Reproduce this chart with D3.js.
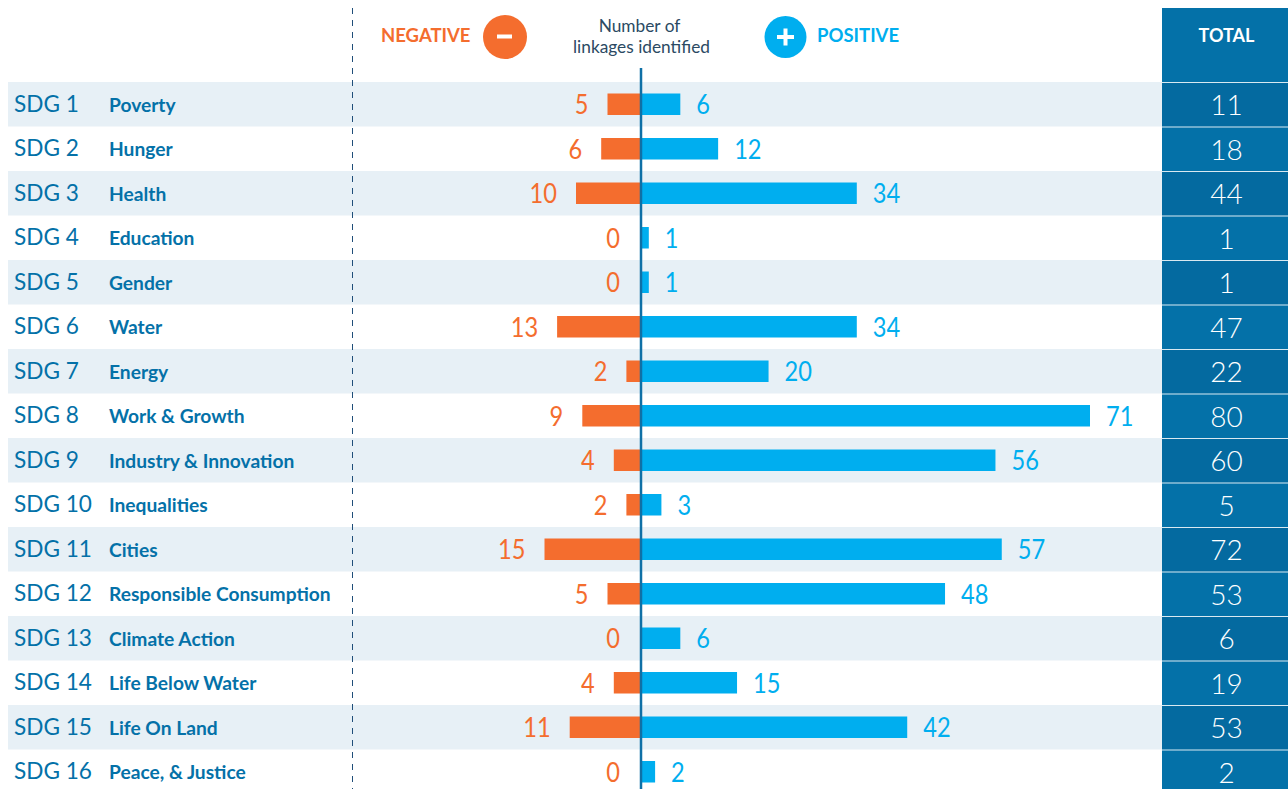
<!DOCTYPE html>
<html lang="en">
<head>
    <meta charset="UTF-8">
    <title>SDG linkages</title>
    <style>
        html, body { margin: 0; padding: 0; background: #fff; overflow: hidden; }
        svg { display: block; font-family: Lato, "Open Sans", sans-serif; }
    </style>
</head>
<body>
    <script src="https://d3js.org/d3.v7.min.js"></script>
    <script>
        const codes = ['SDG 1', 'SDG 2', 'SDG 3', 'SDG 4', 'SDG 5', 'SDG 6', 'SDG 7', 'SDG 8', 'SDG 9', 'SDG 10', 'SDG 11', 'SDG 12', 'SDG 13', 'SDG 14', 'SDG 15', 'SDG 16'];
        const names = ['Poverty', 'Hunger', 'Health', 'Education', 'Gender', 'Water', 'Energy', 'Work & Growth', 'Industry & Innovation', 'Inequalities', 'Cities', 'Responsible Consumption', 'Climate Action', 'Life Below Water', 'Life On Land', 'Peace, & Justice'];
        const negative = [5, 6, 10, 0, 0, 13, 2, 9, 4, 2, 15, 5, 0, 4, 11, 0];
        const positive = [6, 12, 34, 1, 1, 34, 20, 71, 56, 3, 57, 48, 6, 15, 42, 2];
        const totals = [11, 18, 44, 1, 1, 47, 22, 80, 60, 5, 72, 53, 6, 19, 53, 2];

        const width = 1288;
        const height = 789;
        const BLUE = '#00aeef';
        const ORANGE = '#f46d2e';
        const DARK = '#0471a8';
        const DARKER = '#046aa0';
        const BAND = '#e7f0f6';
        const CENTER = 641;

        const svg = d3.select('body').append('svg')
            .attr('width', width)
            .attr('height', height);

        const y = d3.scaleBand().domain(codes).range([82, 794]);
        // both sides start a little off the centre line
        const xNeg = d3.scaleLinear().domain([0, 15]).range([639, 544.5]);
        const xPos = d3.scaleLinear().domain([0, 71]).range([642.5, 1090]);
        const mid = d => y(d) + y.bandwidth() / 2;

        // Lato digits are wider than the original face, squeeze them
        const digitsLength = d => String(d).length * 13.7;

        // striped rows
        svg.append('g').selectAll('rect').data(codes.filter((d, i) => i % 2 === 0)).join('rect')
            .attr('x', 8)
            .attr('y', d => y(d))
            .attr('width', 1162 - 8)
            .attr('height', y.bandwidth())
            .attr('fill', BAND);

        // total column
        svg.append('rect').attr('x', 1162).attr('y', 8).attr('width', 126).attr('height', height - 8).attr('fill', DARK);
        svg.append('g').selectAll('rect').data(codes.filter((d, i) => i % 2 === 0)).join('rect')
            .attr('x', 1162)
            .attr('y', d => y(d))
            .attr('width', 126)
            .attr('height', y.bandwidth())
            .attr('fill', DARKER);
        svg.append('g').selectAll('line').data(codes).join('line')
            .attr('x1', 1162).attr('x2', 1288)
            .attr('y1', d => y(d) + 0.5).attr('y2', d => y(d) + 0.5)
            .attr('stroke', '#fff').attr('stroke-opacity', 0.85);

        svg.append('line')
            .attr('x1', 352.5).attr('x2', 352.5).attr('y1', 8).attr('y2', height)
            .attr('stroke', '#1f4e79').attr('stroke-dasharray', '6 6');

        // bars
        const barH = 21.5;
        svg.append('g').selectAll('rect').data(codes).join('rect')
            .attr('x', (d, i) => xNeg(negative[i]))
            .attr('y', d => mid(d) - barH / 2)
            .attr('width', (d, i) => negative[i] > 0 ? CENTER - xNeg(negative[i]) : 0)
            .attr('height', barH)
            .attr('fill', ORANGE);
        svg.append('g').selectAll('rect').data(codes).join('rect')
            .attr('x', CENTER)
            .attr('y', d => mid(d) - barH / 2)
            .attr('width', (d, i) => xPos(positive[i]) - CENTER)
            .attr('height', barH)
            .attr('fill', BLUE);

        svg.append('line')
            .attr('x1', CENTER).attr('x2', CENTER).attr('y1', 68).attr('y2', height)
            .attr('stroke', '#0f70a6').attr('stroke-width', 2.5);

        // row labels
        svg.append('g').selectAll('text').data(codes).join('text')
            .attr('x', 14)
            .attr('y', d => mid(d) + 7.5)
            .attr('font-size', 22.6)
            .attr('fill', DARK)
            .text(d => d);
        svg.append('g').selectAll('text').data(names).join('text')
            .attr('x', 109)
            .attr('y', (d, i) => mid(codes[i]) + 7.5)
            .attr('font-size', 19.2)
            .attr('font-weight', 700)
            .attr('fill', DARK)
            .text(d => d);

        // values
        svg.append('g').selectAll('text').data(negative).join('text')
            .attr('x', d => xNeg(d) - 19)
            .attr('y', (d, i) => mid(codes[i]) + 10)
            .attr('text-anchor', 'end')
            .attr('font-size', 27)
            .attr('textLength', digitsLength)
            .attr('lengthAdjust', 'spacingAndGlyphs')
            .attr('fill', ORANGE)
            .text(d => d);
        svg.append('g').selectAll('text').data(positive).join('text')
            .attr('x', d => xPos(d) + 16)
            .attr('y', (d, i) => mid(codes[i]) + 10)
            .attr('font-size', 27)
            .attr('textLength', digitsLength)
            .attr('lengthAdjust', 'spacingAndGlyphs')
            .attr('fill', BLUE)
            .text(d => d);
        svg.append('g').selectAll('text').data(totals).join('text')
            .attr('x', 1226.5)
            .attr('y', (d, i) => mid(codes[i]) + 11)
            .attr('text-anchor', 'middle')
            .attr('font-size', 28)
            .attr('font-weight', 300)
            .attr('fill', '#fff')
            .text(d => d);

        // header
        svg.append('text').attr('x', 1226.5).attr('y', 41.5).attr('text-anchor', 'middle')
            .attr('font-size', 18).attr('font-weight', 700).attr('fill', '#fff').text('TOTAL');

        svg.append('text').attr('x', 381).attr('y', 42)
            .attr('font-size', 18.5).attr('font-weight', 700).attr('fill', ORANGE).text('NEGATIVE');
        svg.append('ellipse').attr('cx', 505).attr('cy', 37).attr('rx', 22).attr('ry', 22).attr('fill', ORANGE);
        svg.append('rect').attr('x', 497).attr('y', 34.5).attr('width', 15).attr('height', 4).attr('fill', '#fff');

        svg.append('circle').attr('cx', 785.5).attr('cy', 37).attr('r', 21).attr('fill', BLUE);
        svg.append('rect').attr('x', 777).attr('y', 35).attr('width', 17).attr('height', 4).attr('fill', '#fff');
        svg.append('rect').attr('x', 783.5).attr('y', 28.5).attr('width', 4).attr('height', 17).attr('fill', '#fff');
        svg.append('text').attr('x', 817).attr('y', 42)
            .attr('font-size', 18.5).attr('font-weight', 700).attr('fill', BLUE).text('POSITIVE');

        svg.append('text').attr('x', 639.5).attr('y', 31.5).attr('text-anchor', 'middle')
            .attr('font-size', 17.3).attr('fill', '#2b4a63').text('Number of');
        svg.append('text').attr('x', 641.5).attr('y', 52.5).attr('text-anchor', 'middle')
            .attr('font-size', 17.3).attr('fill', '#2b4a63').text('linkages identified');
    </script>
</body>
</html>
